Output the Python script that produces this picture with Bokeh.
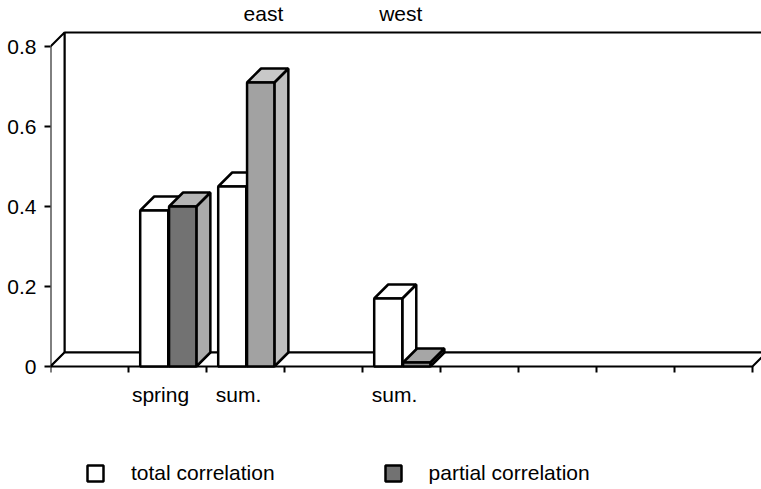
from bokeh.plotting import figure
from bokeh.models import Range1d, FixedTicker, Legend, LegendItem
from bokeh.core.properties import value
from bokeh.embed import file_html
from bokeh.resources import INLINE

# ---------------- data ----------------
categories = ["", "spring", "sum.", "", "sum.", "", "", "", ""]
total_corr = [None, 0.39, 0.45, None, 0.17, None, None, None, None]
partial_corr = [None, 0.40, 0.71, None, 0.01, None, None, None, None]
group_labels = ["east", "west"]
group_cat_index = [2, 4]
y_ticks = [0, 0.2, 0.4, 0.6, 0.8]
y_tick_labels = ["0", "0.2", "0.4", "0.6", "0.8"]
series_names = ["total correlation", "partial correlation"]

# ---------------- layout / style ----------------
FONT = "Liberation Sans"
FS = "21px"
W, H = 761, 489
L = 50                 # left border (px)
FRAME_B = 366          # px from top where value 0 sits
PX_X = 78.0            # px per category slot
PX_Y = 400.0           # px per unit of correlation
DEPTH = 14             # px of 3-D depth
DX = DEPTH / PX_X
DY = DEPTH / PX_Y
n = len(categories)
x_max = (W - L) / PX_X
y_hi = FRAME_B / PX_Y
y_lo = -(H - FRAME_B) / PX_Y
y_top = y_ticks[-1]
LW = 2
BLW = 2.5
TICK = 6 / PX_Y
GROUP_LABEL_SHIFT = [0.73, 0.49]
GROUP_LABEL_Y = 33 / PX_Y
LABEL_SHIFT = 0.41
LABEL_BASE = -28 / PX_Y
series_span = [(0.15, 0.51), (0.52, 0.87)]
front_colors = [["white"] * 3, ["#727272", "#a2a2a2", "#8e8e8e"]]
side_colors = [["white"] * 3, ["#ababab", "#bebebe", "#a0a0a0"]]
top_colors = [["white"] * 3, ["#b5b5b5", "#c8c8c8", "#a6a6a6"]]

p = figure(width=W, height=H, output_backend="svg", toolbar_location=None,
           x_range=Range1d(0, x_max), y_range=Range1d(y_lo, y_hi),
           x_axis_location=None,
           min_border_left=L, min_border_right=0, min_border_top=0,
           min_border_bottom=0)
p.outline_line_color = None
p.grid.visible = False
p.background_fill_color = "white"
p.border_fill_color = "white"

# walls and floor
wall_xs = [[DX, DX, n + DX, n + DX], [0, 0, DX, DX], [0, n, n + DX, DX]]
wall_ys = [[DY, y_top + DY, y_top + DY, DY], [0, y_top, y_top + DY, DY], [0, 0, DY, DY]]
p.patches(wall_xs, wall_ys, fill_color="white", line_color="black", line_width=LW)

# category boundary ticks below the floor
bounds = list(range(n + 1))
p.segment(x0=bounds, y0=[0] * len(bounds), x1=bounds, y1=[-TICK] * len(bounds),
          line_color="black", line_width=LW)

# bars: slot by slot, each series drawn as side, top, front faces
front_renderers = [None, None]
k_count = [0, 0]
for i in range(n):
    for s, vals in enumerate([total_corr, partial_corr]):
        v = vals[i]
        if v is None:
            continue
        k = k_count[s]
        k_count[s] += 1
        left = i + series_span[s][0]
        right = i + series_span[s][1]
        p.patch([right, right, right + DX, right + DX], [0, v, v + DY, DY],
                fill_color=side_colors[s][k], line_color="black", line_width=BLW)
        p.patch([left, left + DX, right + DX, right], [v, v + DY, v + DY, v],
                fill_color=top_colors[s][k], line_color="black", line_width=BLW)
        r = p.quad(left=[left], right=[right], bottom=[0], top=[v],
                   fill_color=front_colors[s][k], line_color="black", line_width=BLW)
        if front_renderers[s] is None:
            front_renderers[s] = r

# category labels under the floor
p.text(x=[i + LABEL_SHIFT for i in range(n)], y=[LABEL_BASE] * n, text=categories,
       text_font=value(FONT), text_font_size=FS, text_align="center",
       text_baseline="alphabetic", text_color="black")

# group labels above
p.text(x=[c + sh for c, sh in zip(group_cat_index, GROUP_LABEL_SHIFT)],
       y=[y_top + GROUP_LABEL_Y] * len(group_labels), text=group_labels,
       text_font=value(FONT), text_font_size=FS, text_align="center",
       text_baseline="alphabetic", text_color="black")

# y axis
ya = p.yaxis[0]
ya.ticker = FixedTicker(ticks=y_ticks, minor_ticks=[])
ya.major_label_overrides = {t: lab for t, lab in zip(y_ticks, y_tick_labels)}
ya.axis_line_color = None
ya.major_tick_out = 6
ya.major_tick_in = 0
ya.major_tick_line_width = LW
ya.major_tick_line_color = "black"
ya.minor_tick_line_color = None
ya.major_label_standoff = 8
ya.major_label_text_font = FONT
ya.major_label_text_font_size = FS
ya.major_label_text_color = "black"

legend = Legend(items=[LegendItem(label=series_names[s], renderers=[front_renderers[s]])
                       for s in range(2)],
                location=(35, 4), orientation="horizontal",
                glyph_width=20, glyph_height=20, label_standoff=26, spacing=108,
                padding=0, margin=0, border_line_color=None, background_fill_alpha=0,
                label_text_font=FONT, label_text_font_size=FS, label_height=21,
                label_text_color="black")
p.add_layout(legend, "center")

open("out.html", "w").write(file_html(p, INLINE))
